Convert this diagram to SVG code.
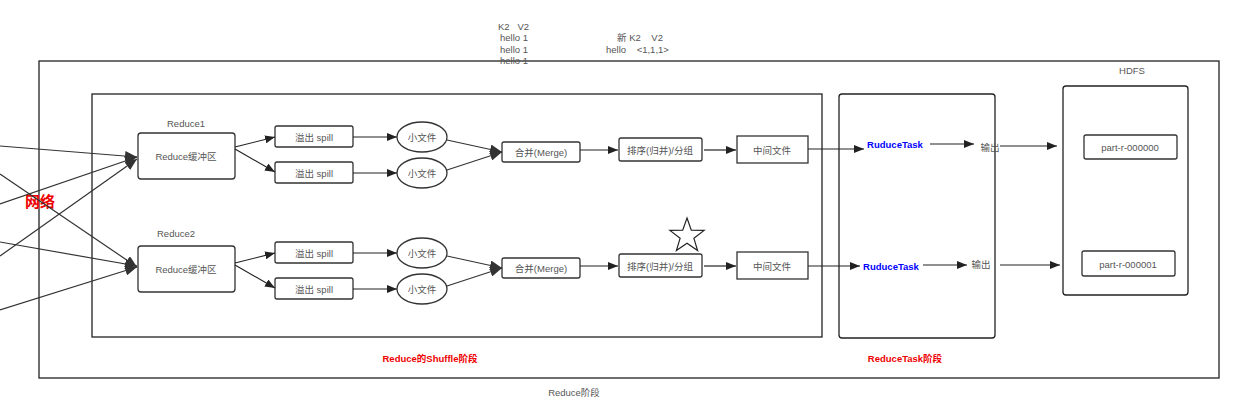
<svg xmlns="http://www.w3.org/2000/svg" width="1245" height="413" viewBox="0 0 1245 413">
<defs>
<marker id="ah" viewBox="0 0 10 8" refX="10" refY="4" markerWidth="10" markerHeight="8" markerUnits="userSpaceOnUse" orient="auto">
<path d="M0,0 L10,4 L0,8 Z" fill="#222"/>
</marker>
<marker id="ahb" viewBox="0 0 12 10" refX="12" refY="5" markerWidth="12" markerHeight="10" markerUnits="userSpaceOnUse" orient="auto">
<path d="M0,0 L12,5 L0,10 Z" fill="#333"/>
</marker>
</defs>
<style>
text{font-family:"Liberation Sans","Noto Sans CJK SC",sans-serif;font-size:9.5px;fill:#555;white-space:pre;}
.c{text-anchor:middle;dominant-baseline:central;}
.box{fill:#fff;stroke:#333;stroke-width:1.3;}
.frame{fill:none;stroke:#222;stroke-width:1.3;}
.con{fill:none;stroke:#222;stroke-width:1.2;marker-end:url(#ah);}
.conb{fill:none;stroke:#333;stroke-width:1.2;marker-end:url(#ahb);}
.red{fill:#e00;font-weight:bold;}
.blue{fill:#00f;font-weight:bold;}
</style>
<rect width="1245" height="413" fill="#fff"/>

<g id="frames">
<rect class="frame" x="39" y="61" width="1180" height="317"/>
<rect class="frame" x="92" y="94" width="730" height="243"/>
<rect class="frame" x="839" y="94" width="156" height="244" rx="3"/>
<rect class="frame" x="1063" y="86" width="125" height="209" rx="3"/>
</g>

<g id="labels">
<text x="498" y="30" xml:space="preserve">K2   V2</text>
<text x="500" y="41">hello 1</text>
<text x="500" y="53">hello 1</text>
<text x="500" y="64">hello 1</text>
<text x="617" y="41" xml:space="preserve">新 K2    V2</text>
<text x="606" y="53" xml:space="preserve">hello    &lt;1,1,1&gt;</text>
<text class="c" x="1132" y="70">HDFS</text>
<text class="c red" x="40" y="201" style="font-size:15px">网络</text>
<text class="c red" x="430" y="358">Reduce的Shuffle阶段</text>
<text class="c red" x="905" y="358">ReduceTask阶段</text>
<text class="c" x="574" y="392">Reduce阶段</text>
<text class="c" x="186" y="123">Reduce1</text>
<text class="c" x="176" y="233">Reduce2</text>
</g>

<g id="reduce1"><rect class="box" x="138" y="133" width="97" height="46" rx="3"/><text class="c" x="186" y="156">Reduce缓冲区</text></g>
<g id="reduce2"><rect class="box" x="138" y="246" width="97" height="46" rx="3"/><text class="c" x="186" y="269">Reduce缓冲区</text></g>

<g id="spill1a"><rect class="box" x="275" y="126" width="78" height="21" rx="2"/><text class="c" x="314" y="137">溢出 spill</text></g>
<g id="spill1b"><rect class="box" x="275" y="162" width="78" height="21" rx="2"/><text class="c" x="314" y="173">溢出 spill</text></g>
<g id="spill2a"><rect class="box" x="275" y="242" width="78" height="21" rx="2"/><text class="c" x="314" y="253">溢出 spill</text></g>
<g id="spill2b"><rect class="box" x="275" y="278" width="78" height="21" rx="2"/><text class="c" x="314" y="289">溢出 spill</text></g>

<g id="file1a"><ellipse class="box" cx="422" cy="137" rx="25" ry="15"/><text class="c" x="422" y="137">小文件</text></g>
<g id="file1b"><ellipse class="box" cx="422" cy="173" rx="25" ry="15"/><text class="c" x="422" y="173">小文件</text></g>
<g id="file2a"><ellipse class="box" cx="422" cy="253" rx="25" ry="15"/><text class="c" x="422" y="253">小文件</text></g>
<g id="file2b"><ellipse class="box" cx="422" cy="289" rx="25" ry="15"/><text class="c" x="422" y="289">小文件</text></g>

<g id="merge1"><rect class="box" x="502" y="142" width="78" height="20" rx="2"/><text class="c" x="541" y="152">合并(Merge)</text></g>
<g id="merge2"><rect class="box" x="502" y="258" width="78" height="20" rx="2"/><text class="c" x="541" y="268">合并(Merge)</text></g>

<g id="sort1"><rect class="box" x="619" y="138" width="83" height="23" rx="2"/><text class="c" x="660" y="150">排序(归并)/分组</text></g>
<g id="sort2"><rect class="box" x="619" y="254" width="83" height="23" rx="2"/><text class="c" x="660" y="266">排序(归并)/分组</text></g>

<g id="star"><polygon points="687,218 691.3,230.1 704.1,230.4 693.9,238.3 697.6,250.6 687,243.3 676.4,250.6 680.1,238.3 669.9,230.4 682.7,230.1" fill="#fff" stroke="#222" stroke-width="1.2"/></g>

<g id="mid1"><rect class="box" x="737" y="136" width="71" height="27"/><text class="c" x="772" y="150">中间文件</text></g>
<g id="mid2"><rect class="box" x="737" y="252" width="71" height="27"/><text class="c" x="772" y="266">中间文件</text></g>

<g id="task1"><text class="c blue" x="895" y="144">RuduceTask</text></g>
<g id="task2"><text class="c blue" x="891" y="266">RuduceTask</text></g>
<g id="out1"><text class="c" x="990" y="147">输出</text></g>
<g id="out2"><text class="c" x="981" y="264">输出</text></g>

<g id="part0"><rect class="box" x="1084" y="135" width="93" height="24" rx="2"/><text class="c" x="1130" y="147">part-r-000000</text></g>
<g id="part1"><rect class="box" x="1082" y="251" width="93" height="25" rx="2"/><text class="c" x="1128" y="264">part-r-000001</text></g>

<g id="connectors">
<line class="conb" x1="0" y1="146" x2="137" y2="157"/>
<line class="conb" x1="0" y1="174" x2="137" y2="267"/>
<line class="conb" x1="0" y1="204" x2="137" y2="157"/>
<line class="conb" x1="0" y1="242" x2="137" y2="266"/>
<line class="conb" x1="0" y1="256" x2="137" y2="159"/>
<line class="conb" x1="0" y1="310" x2="137" y2="267"/>

<line class="con" x1="235" y1="147" x2="275" y2="137"/>
<line class="con" x1="235" y1="149" x2="275" y2="172"/>
<line class="con" x1="235" y1="263" x2="275" y2="253"/>
<line class="con" x1="235" y1="265" x2="275" y2="288"/>

<line class="con" x1="353" y1="137" x2="397" y2="137"/>
<line class="con" x1="353" y1="173" x2="397" y2="173"/>
<line class="con" x1="353" y1="253" x2="397" y2="253"/>
<line class="con" x1="353" y1="289" x2="397" y2="289"/>

<line class="conb" x1="447" y1="140" x2="502" y2="152"/>
<line class="conb" x1="447" y1="170" x2="502" y2="152"/>
<line class="conb" x1="447" y1="256" x2="502" y2="268"/>
<line class="conb" x1="447" y1="286" x2="502" y2="268"/>

<line class="con" x1="580" y1="150" x2="618" y2="150"/>
<line class="con" x1="580" y1="266" x2="618" y2="266"/>
<line class="con" x1="704" y1="150" x2="736" y2="150"/>
<line class="con" x1="704" y1="266" x2="736" y2="266"/>

<line class="con" x1="808" y1="149" x2="864" y2="149"/>
<line class="con" x1="808" y1="266" x2="860" y2="266"/>
<line class="con" x1="930" y1="144" x2="974" y2="144"/>
<line class="con" x1="923" y1="265" x2="967" y2="265"/>
<line class="con" x1="1000" y1="146" x2="1057" y2="146"/>
<line class="con" x1="1000" y1="265" x2="1060" y2="265"/>
</g>
</svg>
